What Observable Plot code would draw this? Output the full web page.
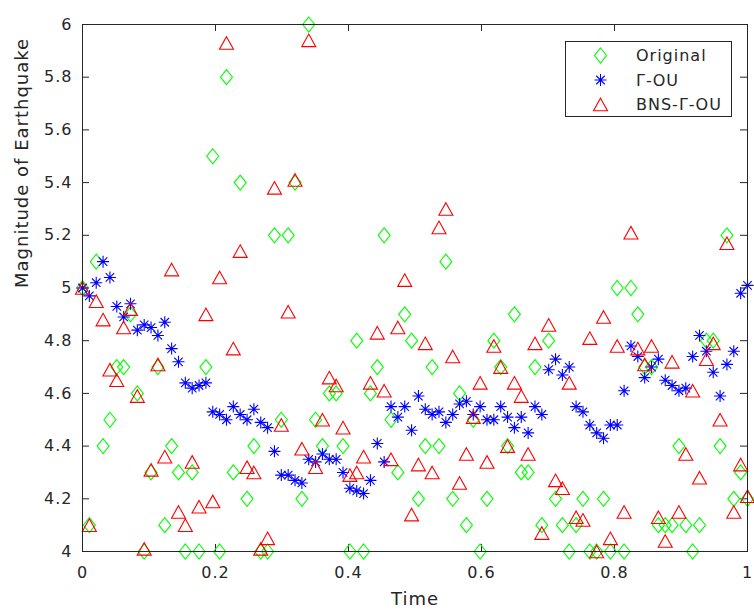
<!DOCTYPE html>
<html><head><meta charset="utf-8">
<script src="https://cdn.jsdelivr.net/npm/d3@7"></script>
<script src="https://cdn.jsdelivr.net/npm/@observablehq/plot@0.6"></script>
<style>
body{margin:0;background:#fff;}
#wrap{position:relative;width:754px;height:610px;overflow:hidden;background:#fff;}
#wrap svg{display:block;}
#legend{position:absolute;left:0;top:0;}
</style></head><body><div id="wrap"></div>
<script>
// Observed earthquake magnitudes (green diamonds)
const original = [
5.0,4.1,5.1,4.4,4.5,4.7,4.7,4.9,4.6,4.0,
4.3,4.7,4.1,4.4,4.3,4.0,4.3,4.0,4.7,5.5,
4.0,5.8,4.3,5.4,4.2,4.4,4.0,4.0,5.2,4.5,
5.2,5.4,4.2,6.0,4.5,4.4,4.6,4.6,4.4,4.0,
4.8,4.0,4.6,4.7,5.2,4.5,4.3,4.9,4.8,4.2,
4.4,4.7,4.4,5.1,4.2,4.6,4.1,4.5,4.0,4.2,
4.8,4.7,4.4,4.9,4.3,4.3,4.7,4.1,4.8,4.2,
4.1,4.0,4.1,4.2,4.0,4.0,4.2,4.0,5.0,4.0,
5.0,4.9,4.7,4.7,4.1,4.1,4.1,4.4,4.1,4.0,
4.1,4.8,4.8,4.4,5.2,4.2,4.3,4.2];
// Γ-OU fitted path (blue asterisks)
const gammaOU = [
5.00,4.97,5.02,5.10,5.04,4.93,4.89,4.94,4.84,4.86,
4.85,4.82,4.87,4.77,4.72,4.64,4.62,4.63,4.64,4.53,
4.52,4.50,4.55,4.52,4.50,4.54,4.49,4.47,4.38,4.29,
4.29,4.27,4.26,4.35,4.34,4.37,4.35,4.35,4.30,4.24,
4.23,4.22,4.27,4.41,4.34,4.55,4.51,4.55,4.46,4.59,
4.54,4.52,4.53,4.49,4.52,4.56,4.57,4.52,4.55,4.50,
4.50,4.55,4.51,4.47,4.51,4.45,4.55,4.52,4.69,4.73,
4.67,4.70,4.55,4.53,4.48,4.45,4.43,4.48,4.48,4.61,
4.78,4.74,4.66,4.70,4.73,4.65,4.63,4.61,4.62,4.74,
4.82,4.76,4.68,4.59,4.71,4.76,4.98,5.01];
// BNS-Γ-OU fitted path (red triangles)
const bnsGammaOU = [
5.00,4.10,4.95,4.88,4.69,4.65,4.85,4.92,4.59,4.01,
4.31,4.71,4.36,5.07,4.15,4.10,4.34,4.17,4.90,4.19,
5.04,5.93,4.77,5.14,4.32,4.30,4.01,4.05,5.38,4.48,
4.91,5.41,4.39,5.94,4.32,4.50,4.66,4.63,4.47,4.29,
4.30,4.36,4.64,4.83,4.61,4.35,4.85,5.03,4.14,4.33,
4.79,4.30,5.23,5.30,4.74,4.26,4.37,4.51,4.64,4.34,
4.78,4.70,4.40,4.64,4.59,4.37,4.79,4.07,4.86,4.27,
4.24,4.64,4.13,4.12,4.81,4.00,4.89,4.05,4.78,4.15,
5.21,4.77,4.71,4.78,4.13,4.04,4.72,4.15,4.37,4.61,
4.28,4.73,4.79,4.50,5.17,4.15,4.33,4.21];

const seriesNames = ["Original", "Γ-OU", "BNS-Γ-OU"];
const seriesColors = ["#00ff00", "#0000ff", "#ff0000"];
const xTicks = [0, 0.2, 0.4, 0.6, 0.8, 1];
const yTicks = [4, 4.2, 4.4, 4.6, 4.8, 5, 5.2, 5.4, 5.6, 5.8, 6];
const xLabel = "Time";
const yLabel = "Magnitude of Earthquake";

const n = original.length;
const time = original.map((_, i) => i / (n - 1));
const rows = (vals) => vals.map((v, i) => ({t: time[i], v}));

// MATLAB-like marker shapes
const diamondSym = {draw(ctx, size) {
  const r = Math.sqrt(size / Math.PI), w = r, h = r * 1.25;
  ctx.moveTo(0, -h); ctx.lineTo(w, 0); ctx.lineTo(0, h); ctx.lineTo(-w, 0); ctx.closePath();
}};
const triSym = {draw(ctx, size) {
  const r = Math.sqrt(size / Math.PI), w = r * 7 / 6, h = r * 6.3 / 6;
  ctx.moveTo(0, -h); ctx.lineTo(w, h); ctx.lineTo(-w, h); ctx.closePath();
}};
const starSym = {draw(ctx, size) {
  const r = Math.sqrt(size / Math.PI), d = r * Math.SQRT1_2;
  ctx.moveTo(-r, 0); ctx.lineTo(r, 0); ctx.moveTo(0, -r); ctx.lineTo(0, r);
  ctx.moveTo(-d, -d); ctx.lineTo(d, d); ctx.moveTo(-d, d); ctx.lineTo(d, -d);
}};
const syms = [diamondSym, starSym, triSym];

const W = 754, H = 610, mL = 82, mR = 7, mT = 24, mB = 59;
const pw = W - mL - mR, ph = H - mT - mB;
const axisCol = "#262626";
const fmt = d => String(+d.toFixed(1));

const chart = Plot.plot({
  width: W, height: H,
  marginLeft: mL, marginRight: mR, marginTop: mT, marginBottom: mB,
  style: {fontFamily: "DejaVu Sans", fontSize: "16px", color: axisCol, background: "#fff", letterSpacing: "1px"},
  x: {domain: [0, 1]},
  y: {domain: [4, 6]},
  marks: [
    Plot.axisX({ticks: xTicks, tickSize: 0, tickPadding: 15, tickFormat: fmt, label: null}),
    Plot.axisY({ticks: yTicks, tickSize: 0, tickPadding: 10, tickFormat: fmt, label: null}),
    Plot.tickX(xTicks, {x: d => d, insetTop: ph - 7, stroke: axisCol}),
    Plot.tickX(xTicks, {x: d => d, insetBottom: ph - 7, stroke: axisCol}),
    Plot.tickY(yTicks, {y: d => d, insetRight: pw - 7, stroke: axisCol}),
    Plot.tickY(yTicks, {y: d => d, insetLeft: pw - 7, stroke: axisCol}),
    Plot.dot(rows(original), {x: "t", y: "v", symbol: diamondSym, r: 6, stroke: seriesColors[0], fill: "none", strokeWidth: 1.1}),
    Plot.dot(rows(gammaOU), {x: "t", y: "v", symbol: starSym, r: 6, stroke: seriesColors[1], fill: "none", strokeWidth: 1.1}),
    Plot.dot(rows(bnsGammaOU), {x: "t", y: "v", symbol: triSym, r: 6, stroke: seriesColors[2], fill: "none", strokeWidth: 1.1}),
    Plot.frame({stroke: axisCol, strokeWidth: 1}),
    Plot.text([xLabel], {frameAnchor: "bottom", dy: 53, fontSize: 18, fill: axisCol}),
    Plot.text([yLabel], {frameAnchor: "left", dx: -60, rotate: -90, fontSize: 18, fill: axisCol})
  ]
});
document.getElementById("wrap").appendChild(chart);

// Legend box (inside the axes, top-right)
const lg = d3.select("#wrap").append("svg").attr("id", "legend")
  .attr("width", W).attr("height", H).style("pointer-events", "none");
const box = {x: 565.5, y: 41.5, w: 166, h: 75};
lg.append("rect").attr("x", box.x).attr("y", box.y).attr("width", box.w).attr("height", box.h)
  .attr("fill", "#fff").attr("stroke", axisCol).attr("stroke-width", 1);
seriesNames.forEach((name, i) => {
  const cy = 55.5 + i * 24.5;
  lg.append("path").attr("d", d3.symbol(syms[i], 36 * Math.PI)())
    .attr("transform", `translate(600.5,${cy})`)
    .attr("fill", "none").attr("stroke", seriesColors[i]).attr("stroke-width", 1.1);
  lg.append("text").attr("x", 636).attr("y", cy).attr("dy", "0.35em")
    .attr("font-family", "DejaVu Sans").attr("font-size", 16).attr("letter-spacing", "1px")
    .attr("fill", axisCol).text(name);
});
</script>
</body></html>
